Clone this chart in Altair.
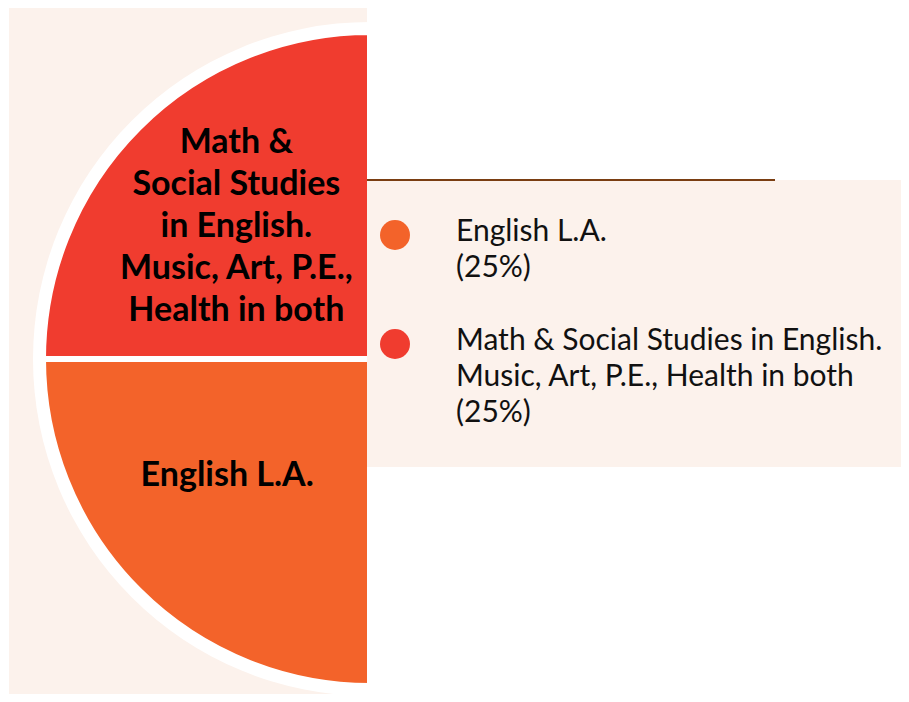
import math
import altair as alt
import pandas as pd

# ---- data ----
categories = ["English L.A.", "Math & Social Studies in English. Music, Art, P.E., Health in both"]
shares = [25, 25]
colors = ["#F3632A", "#F03C2F"]
pie_labels = ["English L.A.", "Math &\nSocial Studies\nin English.\nMusic, Art, P.E.,\nHealth in both"]
legend_labels = ["English L.A.\n(25%)", "Math & Social Studies in English.\nMusic, Art, P.E., Health in both\n(25%)"]

df = pd.DataFrame({
    "cat": categories,
    "share": shares,
    "idx": list(range(len(categories))),
    "pie_label": pie_labels,
    "legend_label": legend_labels,
})
one = pd.DataFrame({"a": [0]})

W, H = 893, 686
CX, CY = 362, 351
TOTAL = sum(shares)
ARC_RANGE = [math.pi, 2 * math.pi]

base = alt.Chart(df)
theta = alt.Theta("share:Q", stack=True, scale=alt.Scale(range=ARC_RANGE))
order = alt.Order("idx:Q")
color = alt.Color("cat:N", scale=alt.Scale(domain=categories, range=colors), legend=None)

left_bg = alt.Chart(one).mark_rect(color="#FCF2EC").encode(
    x=alt.value(1), x2=alt.value(359), y=alt.value(-5), y2=alt.value(H + 10)
)
legend_bg = alt.Chart(one).mark_rect(color="#FCF2EC").encode(
    x=alt.value(359), x2=alt.value(W), y=alt.value(172), y2=alt.value(459)
)
legend_rule = alt.Chart(one).mark_rule(color="#7A3E12", strokeWidth=2).encode(
    x=alt.value(359), x2=alt.value(767), y=alt.value(172)
)

ring = base.mark_arc(outerRadius=337, color="#FFFFFF").encode(
    theta=theta, order=order, x=alt.value(CX), y=alt.value(CY)
)
slices = base.mark_arc(outerRadius=327, stroke="#FFFFFF", strokeWidth=6).encode(
    theta=theta, order=order, color=color, x=alt.value(CX), y=alt.value(CY)
)


def pie_label(k, radius, dx, dy):
    return (
        base.transform_window(cum="sum(share)", sort=[alt.SortField("idx")])
        .transform_calculate(mid="datum.cum - datum.share / 2")
        .transform_filter(alt.datum.idx == k)
        .mark_text(
            radius=radius, dx=dx, dy=dy, font="Lato", fontSize=34, fontWeight="bold",
            lineHeight=42, lineBreak="\n", color="#000000", align="center", baseline="middle",
        )
        .encode(
            theta=alt.Theta("mid:Q", scale=alt.Scale(domain=[0, TOTAL], range=ARC_RANGE)),
            text="pie_label:N",
            x=alt.value(CX), y=alt.value(CY),
        )
    )


lbl_eng = pie_label(0, 185, -12, -14)
lbl_math = pie_label(1, 189, 0, -82)

ly = alt.Y("idx:Q", scale=alt.Scale(domain=[0, 1], range=[227, 336]), axis=None)
dots = base.mark_circle(size=900, opacity=1).encode(x=alt.value(387), y=ly, color=color)
ltext = base.mark_text(
    align="left", baseline="alphabetic", dy=6, font="Lato", fontSize=30,
    lineHeight=36, lineBreak="\n", color="#111111",
).encode(x=alt.value(448), y=ly, text="legend_label:N")

chart = (
    alt.layer(left_bg, ring, slices, legend_bg, legend_rule, lbl_eng, lbl_math, dots, ltext)
    .resolve_scale(theta="independent")
    .properties(width=W, height=H, padding=0, autosize=alt.AutoSizeParams(type="none"),
                background="#FFFFFF")
    .configure_view(stroke=None)
)

chart.save("out.html", embed_options={"renderer": "svg", "actions": False})
